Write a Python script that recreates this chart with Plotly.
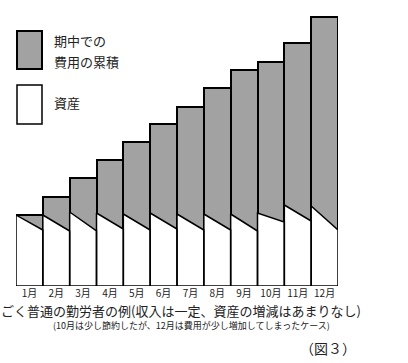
import plotly.graph_objects as go

months = ["1月", "2月", "3月", "4月", "5月", "6月", "7月", "8月", "9月", "10月", "11月", "12月"]
# total height (assets + cumulative expenses) at the top of each month column
totals = [71, 89, 108, 126, 144, 162, 179, 198, 216, 224, 243, 269]
# assets at start (left edge) and end (right edge) of each month
assets_start = [71, 71, 74, 73, 72, 73, 72, 72, 72, 73, 81, 80]
assets_end = [56, 55, 55, 57, 56, 57, 56, 56, 55, 64, 65, 56]

FONT = "Noto Sans CJK JP"
GRAY = "#a2a2a2"

fig = go.Figure()

fig.add_trace(go.Bar(
    x=list(range(len(months))), y=totals, width=1,
    marker=dict(color=GRAY, line=dict(color="black", width=2)),
    hoverinfo="skip", showlegend=False,
))

xs, ys = [], []
for i, (s, e) in enumerate(zip(assets_start, assets_end)):
    x0, x1 = i - 0.5, i + 0.5
    xs += [x0, x1, x1, x0, x0, None]
    ys += [0, 0, e, s, 0, None]
fig.add_trace(go.Scatter(
    x=xs, y=ys, mode="lines", fill="toself", fillcolor="white",
    line=dict(color="black", width=1.5), hoverinfo="skip", showlegend=False,
))

W, H = 408, 363
L, R, T, B = 16, 70, 10, 77
pw, ph = W - L - R, H - T - B

def px(x):
    return (x - L) / pw

def py(y):
    return (H - B - y) / ph

shapes = [
    dict(type="rect", xref="paper", yref="paper", x0=px(17), x1=px(42), y0=py(69), y1=py(31),
         fillcolor=GRAY, line=dict(color="black", width=2)),
    dict(type="rect", xref="paper", yref="paper", x0=px(17), x1=px(42), y0=py(124), y1=py(85),
         fillcolor="white", line=dict(color="black", width=1.5)),
]

def ann(text, x, y, size, xanchor="left"):
    return dict(text=text, x=px(x), y=py(y), xref="paper", yref="paper", showarrow=False,
                xanchor=xanchor, yanchor="middle", font=dict(family=FONT, size=size, color="#222"))

annotations = [
    ann("期中での", 52, 40, 13),
    ann("費用の累積", 52, 61, 13),
    ann("資産", 52, 102, 13),
    ann("ごく普通の勤労者の例(収入は一定、資産の増減はあまりなし)", 181, 310, 13, "center"),
    ann("(10月は少し節約したが、12月は費用が少し増加してしまったケース)", 191, 325, 9, "center"),
    ann("（図３）", 328, 348, 14, "center"),
]

fig.update_layout(
    width=W, height=H, margin=dict(l=L, r=R, t=T, b=B),
    paper_bgcolor="white", plot_bgcolor="white",
    shapes=shapes, annotations=annotations, bargap=0,
    xaxis=dict(range=[-0.5, len(months) - 0.5], tickvals=list(range(len(months))), ticktext=months,
               showgrid=False, zeroline=False, showline=False, ticks="",
               tickfont=dict(family=FONT, size=10, color="#222")),
    yaxis=dict(range=[0, ph], showgrid=False, zeroline=False, showline=False,
               showticklabels=False, ticks=""),
)

fig.write_html("out.html", config={"displayModeBar": False},
               post_script="document.body.style.margin='0';document.body.style.overflow='hidden';")
